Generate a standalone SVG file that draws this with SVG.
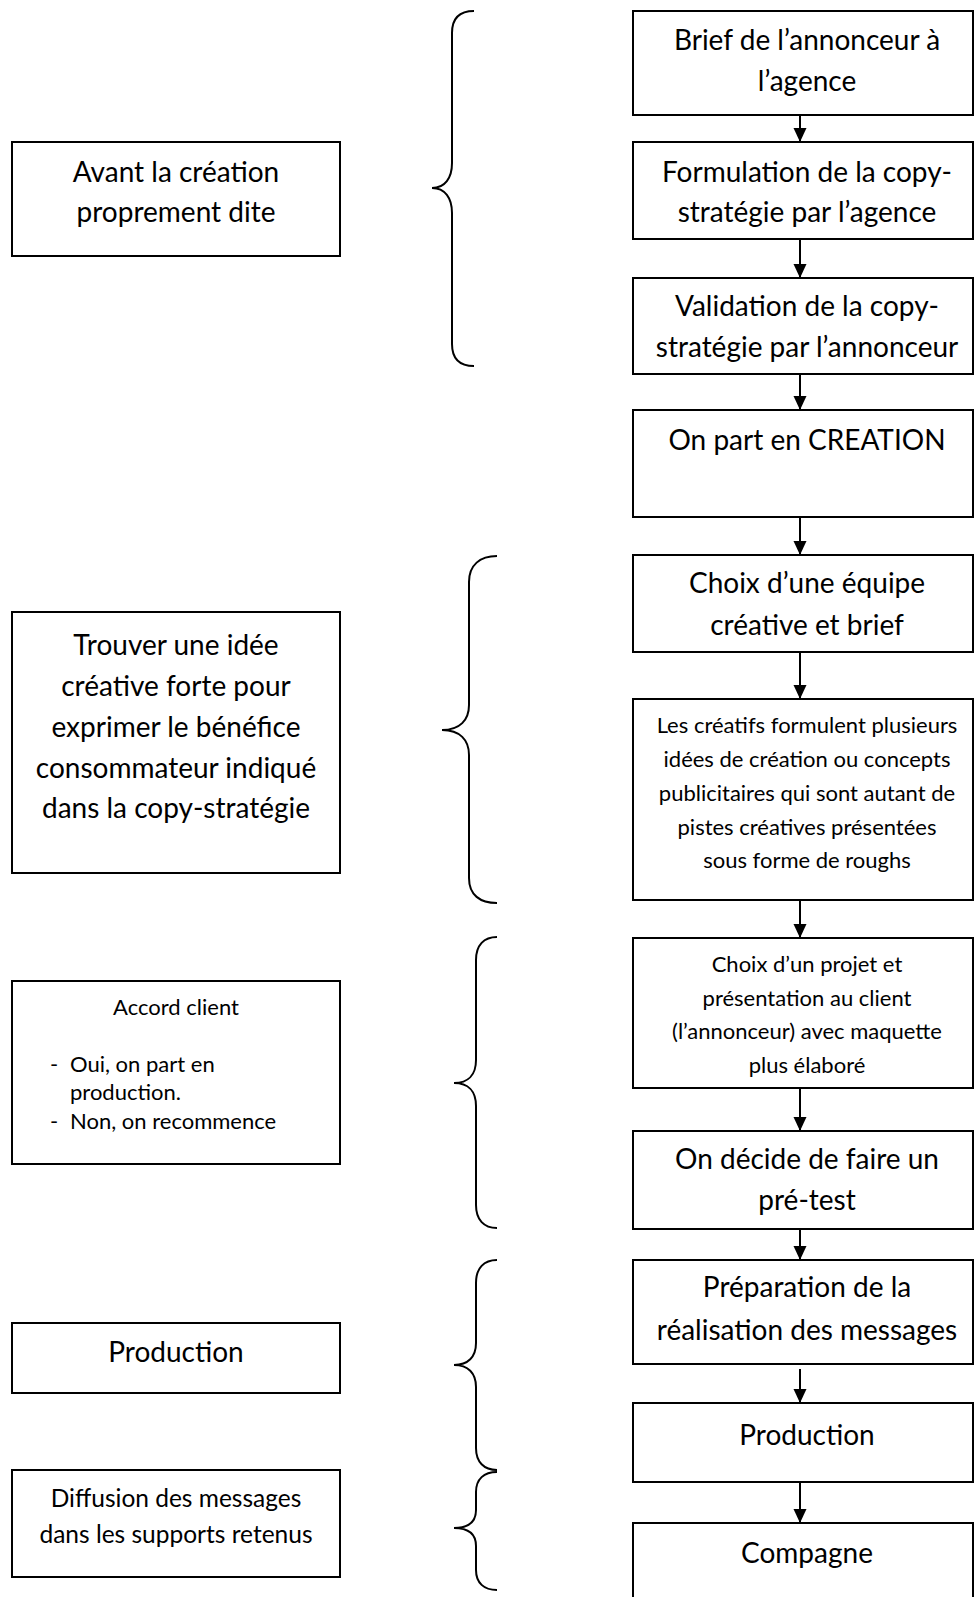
<svg xmlns="http://www.w3.org/2000/svg" width="974" height="1597" viewBox="0 0 974 1597">
  <style>
    .box { fill: #ffffff; stroke: #000000; stroke-width: 2; }
    .t { font-family: Lato, "Open Sans", "Liberation Sans", sans-serif; fill: #000000; text-anchor: middle; }
    .big { font-size: 28px; }
    .mid { font-size: 24.5px; }
    .small { font-size: 22px; }
    .lft { text-anchor: start; }
    .brace { fill: none; stroke: #000000; stroke-width: 2; }
    .conn { stroke: #000000; stroke-width: 2; fill: none; }
  </style>
  <defs>
    <marker id="arrow" markerUnits="userSpaceOnUse" markerWidth="15" markerHeight="15" viewBox="0 0 15 15" refX="14" refY="7.5" orient="auto">
      <path d="M0,1 L14,7.5 L0,14 Z" fill="#000000"/>
    </marker>
  </defs>

  <rect width="974" height="1597" fill="#ffffff"/>

  <!-- Left column: phase labels -->
  <g id="phase-avant">
    <rect class="box" x="12" y="142" width="328" height="114"/>
    <text class="t big" x="176" y="182">Avant la création</text>
    <text class="t big" x="176" y="222">proprement dite</text>
  </g>
  <g id="phase-idee">
    <rect class="box" x="12" y="612" width="328" height="261"/>
    <text class="t big" x="176" y="655">Trouver une idée</text>
    <text class="t big" x="176" y="696">créative forte pour</text>
    <text class="t big" x="176" y="737">exprimer le bénéfice</text>
    <text class="t big" x="176" y="778">consommateur indiqué</text>
    <text class="t big" x="176" y="818">dans la copy-stratégie</text>
  </g>
  <g id="phase-accord">
    <rect class="box" x="12" y="981" width="328" height="183"/>
    <text class="t small" x="176" y="1015">Accord client</text>
    <text class="t small lft" x="50" y="1072">-</text>
    <text class="t small lft" x="70" y="1072">Oui, on part en</text>
    <text class="t small lft" x="70" y="1100">production.</text>
    <text class="t small lft" x="50" y="1129">-</text>
    <text class="t small lft" x="70" y="1129">Non, on recommence</text>
  </g>
  <g id="phase-production">
    <rect class="box" x="12" y="1323" width="328" height="70"/>
    <text class="t big" x="176" y="1362">Production</text>
  </g>
  <g id="phase-diffusion">
    <rect class="box" x="12" y="1470" width="328" height="107"/>
    <text class="t mid" x="176" y="1507">Diffusion des messages</text>
    <text class="t mid" x="176" y="1543">dans les supports retenus</text>
  </g>

  <!-- Braces grouping the steps -->
  <g id="braces">
    <path class="brace" d="M474,11 C460,11 452,18 452,33 L452,163 C452,178 445,188 432,188 C445,188 452,198 452,213 L452,344 C452,359 460,366 474,366"/>
    <path class="brace" d="M497,556 C480,556 469,565 469,582 L469,705 C469,720 460,730 442,730 C460,730 469,740 469,755 L469,878 C469,895 480,903 497,903"/>
    <path class="brace" d="M497,937 C484,937 476,945 476,960 L476,1060 C476,1075 468,1083 454,1083 C468,1083 476,1091 476,1106 L476,1205 C476,1220 484,1228 497,1228"/>
    <path class="brace" d="M497,1260 C484,1260 476,1268 476,1283 L476,1343 C476,1357 468,1365 454,1365 C468,1365 476,1373 476,1387 L476,1448 C476,1462 484,1470 497,1470"/>
    <path class="brace" d="M497,1472 C484,1472 476,1479 476,1492 L476,1510 C476,1522 468,1528 454,1528 C468,1528 476,1534 476,1546 L476,1570 C476,1583 484,1590 497,1590"/>
  </g>

  <!-- Right column: process steps -->
  <g id="step-brief">
    <rect class="box" x="633" y="11" width="340" height="104"/>
    <text class="t big" x="807" y="50">Brief de l’annonceur à</text>
    <text class="t big" x="807" y="91">l’agence</text>
  </g>
  <g id="step-formulation">
    <rect class="box" x="633" y="142" width="340" height="97"/>
    <text class="t big" x="807" y="182">Formulation de la copy-</text>
    <text class="t big" x="807" y="222">stratégie par l’agence</text>
  </g>
  <g id="step-validation">
    <rect class="box" x="633" y="278" width="340" height="96"/>
    <text class="t big" x="807" y="316">Validation de la copy-</text>
    <text class="t big" x="807" y="357">stratégie par l’annonceur</text>
  </g>
  <g id="step-creation">
    <rect class="box" x="633" y="410" width="340" height="107"/>
    <text class="t big" x="807" y="450">On part en CREATION</text>
  </g>
  <g id="step-equipe">
    <rect class="box" x="633" y="555" width="340" height="97"/>
    <text class="t big" x="807" y="593">Choix d’une équipe</text>
    <text class="t big" x="807" y="635">créative et brief</text>
  </g>
  <g id="step-pistes">
    <rect class="box" x="633" y="699" width="340" height="201"/>
    <text class="t small" x="807" y="733">Les créatifs formulent plusieurs</text>
    <text class="t small" x="807" y="767">idées de création ou concepts</text>
    <text class="t small" x="807" y="801">publicitaires qui sont autant de</text>
    <text class="t small" x="807" y="835">pistes créatives présentées</text>
    <text class="t small" x="807" y="868">sous forme de roughs</text>
  </g>
  <g id="step-projet">
    <rect class="box" x="633" y="938" width="340" height="150"/>
    <text class="t small" x="807" y="972">Choix d’un projet et</text>
    <text class="t small" x="807" y="1006">présentation au client</text>
    <text class="t small" x="807" y="1039">(l’annonceur) avec maquette</text>
    <text class="t small" x="807" y="1073">plus élaboré</text>
  </g>
  <g id="step-pretest">
    <rect class="box" x="633" y="1131" width="340" height="98"/>
    <text class="t big" x="807" y="1169">On décide de faire un</text>
    <text class="t big" x="807" y="1210">pré-test</text>
  </g>
  <g id="step-preparation">
    <rect class="box" x="633" y="1260" width="340" height="104"/>
    <text class="t big" x="807" y="1297">Préparation de la</text>
    <text class="t big" x="807" y="1340">réalisation des messages</text>
  </g>
  <g id="step-production">
    <rect class="box" x="633" y="1403" width="340" height="79"/>
    <text class="t big" x="807" y="1445">Production</text>
  </g>
  <g id="step-compagne">
    <rect class="box" x="633" y="1523" width="340" height="90"/>
    <text class="t big" x="807" y="1563">Compagne</text>
  </g>

  <!-- Connectors between steps -->
  <g id="connectors">
    <line class="conn" x1="800" y1="115" x2="800" y2="142" marker-end="url(#arrow)"/>
    <line class="conn" x1="800" y1="239" x2="800" y2="278" marker-end="url(#arrow)"/>
    <line class="conn" x1="800" y1="374" x2="800" y2="410" marker-end="url(#arrow)"/>
    <line class="conn" x1="800" y1="517" x2="800" y2="555" marker-end="url(#arrow)"/>
    <line class="conn" x1="800" y1="652" x2="800" y2="699" marker-end="url(#arrow)"/>
    <line class="conn" x1="800" y1="900" x2="800" y2="938" marker-end="url(#arrow)"/>
    <line class="conn" x1="800" y1="1088" x2="800" y2="1131" marker-end="url(#arrow)"/>
    <line class="conn" x1="800" y1="1229" x2="800" y2="1260" marker-end="url(#arrow)"/>
    <line class="conn" x1="800" y1="1369" x2="800" y2="1403" marker-end="url(#arrow)"/>
    <line class="conn" x1="800" y1="1482" x2="800" y2="1523" marker-end="url(#arrow)"/>
  </g>
</svg>
